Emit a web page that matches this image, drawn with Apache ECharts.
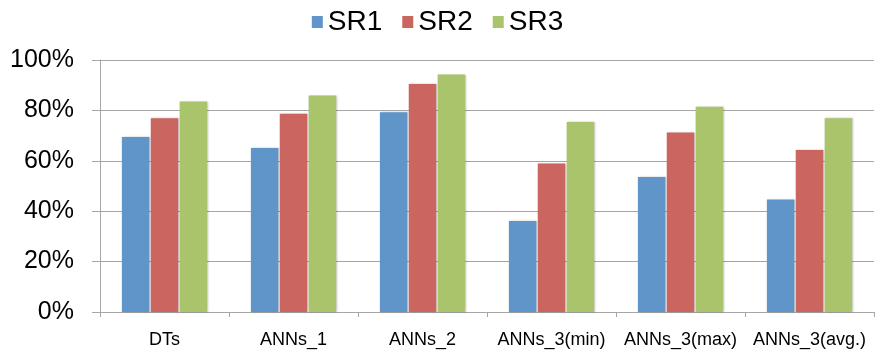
<!DOCTYPE html>
<html>
<head>
<meta charset="utf-8">
<script src="https://cdn.jsdelivr.net/npm/echarts@6/dist/echarts.min.js"></script>
<style>
html,body{margin:0;padding:0;background:#fff;}
#chart{width:875px;height:354px;}
</style>
</head>
<body>
<div id="chart"></div>
<script>
const categories = ['DTs', 'ANNs_1', 'ANNs_2', 'ANNs_3(min)', 'ANNs_3(max)', 'ANNs_3(avg.)'];
const sr1 = [69.4, 65.1, 79.3, 36.1, 53.6, 44.6];
const sr2 = [76.9, 78.7, 90.5, 58.9, 71.2, 64.3];
const sr3 = [83.5, 85.9, 94.2, 75.4, 81.4, 76.9];
const seriesNames = ['SR1', 'SR2', 'SR3'];
const colors = ['#6095C9', '#CB6560', '#AAC46B'];

const font = '"Liberation Sans", Arial, sans-serif';
const chart = echarts.init(document.getElementById('chart'));
const mk = (name, data, color) => ({
  name, type: 'bar', data,
  barWidth: 27.5, barGap: '5%',
  itemStyle: { color, shadowColor: 'rgba(0,0,0,0.25)', shadowBlur: 2, shadowOffsetX: 1 },
  emphasis: { disabled: true }
});
chart.setOption({
  animation: false,
  textStyle: { fontFamily: font },
  legend: {
    top: 3, left: 'center',
    itemWidth: 11, itemHeight: 12, itemGap: 20,
    icon: 'rect',
    textStyle: { fontSize: 28, color: '#000', fontFamily: font },
    data: seriesNames
  },
  grid: { left: 100, right: 1, top: 60, bottom: 42, containLabel: false },
  xAxis: {
    type: 'category', data: categories,
    axisLine: { lineStyle: { color: '#A6A6A6', width: 1 } },
    axisTick: { show: true, length: 5, alignWithLabel: false, lineStyle: { color: '#A6A6A6' } },
    axisLabel: { fontSize: 18, color: '#000', margin: 19, fontFamily: font, interval: 0 }
  },
  yAxis: {
    type: 'value', min: 0, max: 100, interval: 20,
    axisLine: { show: true, lineStyle: { color: '#A6A6A6', width: 1 } },
    axisTick: { show: true, length: 8, inside: false, lineStyle: { color: '#A6A6A6' } },
    splitLine: { lineStyle: { color: '#A6A6A6', width: 1 } },
    axisLabel: { fontSize: 25, color: '#000', margin: 26, fontFamily: font, formatter: v => v + '%' }
  },
  series: [mk(seriesNames[0], sr1, colors[0]), mk(seriesNames[1], sr2, colors[1]), mk(seriesNames[2], sr3, colors[2])]
});
</script>
</body>
</html>
